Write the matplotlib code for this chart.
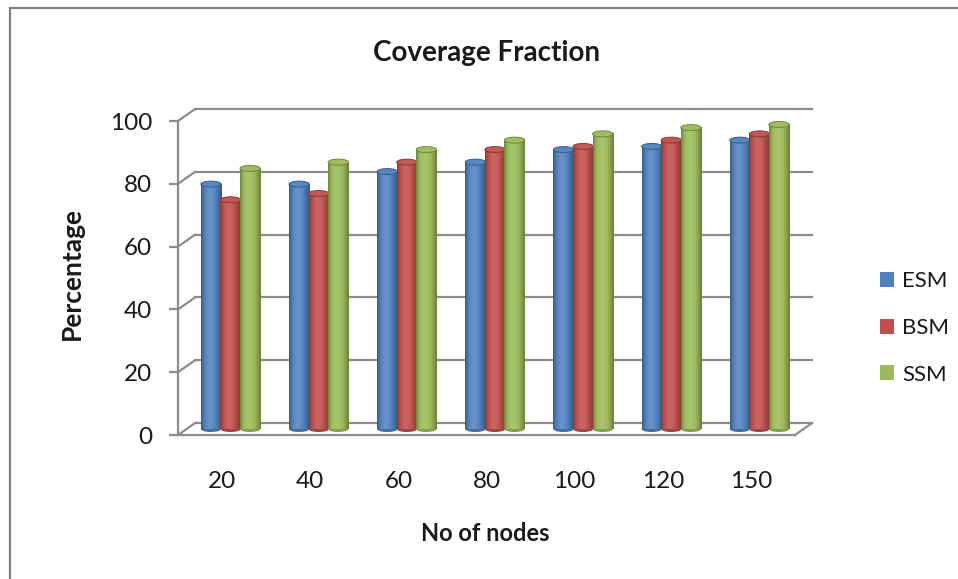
import numpy as np
import matplotlib.pyplot as plt
from matplotlib import rc
from matplotlib.colors import to_rgb
from matplotlib.patches import Ellipse, Rectangle, Patch

rc('font', **{'family': ['Lato', 'DejaVu Sans']})

nodes = ['20', '40', '60', '80', '100', '120', '150']
esm = [78, 78, 82, 85, 89, 90, 92]
bsm = [73, 75, 85, 89, 90, 92, 94]
ssm = [83, 85, 89, 92, 94, 96, 97]
series = ['ESM', 'BSM', 'SSM']
colors = ['#4f81bd', '#c0504d', '#9bbb59']
yticks = [0, 20, 40, 60, 80, 100]

dx, dy = 0.193, 3.8     # depth of the 3d box (data units)
bw = 0.222              # width of one cylinder
eh = 1.9                # height of the end ellipses
grid_c = '#8c8c8c'
txt_c = '#1a1a1a'


def shade(c, k):
    c = np.array(to_rgb(c))
    if k < 1:
        return c * k
    return c + (1 - c) * (k - 1)


def cyl_strip(c, n=64):
    t = np.linspace(0, 1, n) ** 0.8
    k = 0.68 + 0.45 * np.sin(np.pi * t)
    rgb = np.array([shade(c, kk) for kk in k])
    return rgb[np.newaxis, :, :]


fig = plt.figure(figsize=(9.58, 5.79), dpi=100)
ax = fig.add_axes([160/958, 134/579, 670/958, 350/579])
xmin, xmax = -0.704, 6.897
ymin, ymax = -3.18, 108.28

# back wall gridlines + side diagonals
for yt in yticks:
    ax.plot([-0.5 + dx, 6.5 + dx], [yt + dy, yt + dy], color=grid_c, lw=1.6, zorder=1)
    ax.plot([-0.5, -0.5 + dx], [yt, yt + dy], color=grid_c, lw=1.6, zorder=1)
# floor right edge
ax.plot([6.5, 6.5 + dx], [0, dy], color=grid_c, lw=1.6, zorder=1)

# cylinders
x = np.arange(len(nodes))
for j, (vals, c) in enumerate(zip([esm, bsm, ssm], colors)):
    for i, v in enumerate(vals):
        xc = i + dx / 2 + (j - 1) * bw
        w = bw * 1.04
        x0, x1 = xc - w / 2, xc + w / 2
        y0, y1 = dy / 2, v + dy / 2
        z = 3 + 0.01 * (i * 3 + j)
        ax.add_patch(Ellipse((xc, y0), w, eh, facecolor=shade(c, 0.85),
                             edgecolor='none', zorder=z))
        ax.add_patch(Rectangle((x0, y0), w, y1 - y0, facecolor=shade(c, 0.75),
                               edgecolor='none', zorder=z))
        ax.imshow(cyl_strip(c), extent=[x0, x1, y0, y1], aspect='auto',
                  interpolation='nearest', zorder=z + 0.001)
        ax.add_patch(Ellipse((xc, y1), w, eh, facecolor=shade(c, 1.05),
                             edgecolor=shade(c, 0.72), lw=0.7, zorder=z + 0.002))

ax.set_xlim(xmin, xmax)
ax.set_ylim(ymin, ymax)
ax.set_aspect('auto')

# front axes
for s in ['top', 'right']:
    ax.spines[s].set_visible(False)
ax.spines['left'].set_position(('data', -0.5))
ax.spines['left'].set_bounds(0, 100)
ax.spines['bottom'].set_position(('data', 0))
ax.spines['bottom'].set_bounds(-0.5, 6.5)
for s in ['left', 'bottom']:
    ax.spines[s].set_color(grid_c)
    ax.spines[s].set_linewidth(1.6)

ax.set_yticks(yticks)
ax.set_yticklabels([str(t) for t in yticks])
ax.set_xticks(x)
ax.set_xticklabels(nodes)
ax.tick_params(axis='y', length=6.5, width=1.6, color=grid_c, pad=12,
               labelsize=17.5, labelcolor=txt_c)
ax.tick_params(axis='x', length=0, pad=26, labelsize=17.5, labelcolor=txt_c)

ax.set_ylabel('Percentage', fontsize=19, fontweight='bold', color=txt_c)
ax.yaxis.set_label_coords(-0.113, 0.489)
ax.set_xlabel('No of nodes', fontsize=17, fontweight='bold', color=txt_c)
ax.xaxis.set_label_coords(0.485, -0.22)
ax.set_title('Coverage Fraction', fontsize=20, fontweight='bold', color=txt_c,
             x=0.488, y=1.095, va='center')

handles = [Patch(facecolor=c, edgecolor='none') for c in colors]
fig.legend(handles, series, loc='center left', bbox_to_anchor=(860/958, 1 - 328/579),
           frameon=False, fontsize=16, handlelength=0.65, handleheight=0.65,
           handletextpad=0.35, labelspacing=1.2, labelcolor=txt_c)

# chart border
fig.add_artist(Rectangle((9.5/958, -0.1), 1.2, 1.1 - 8/579, transform=fig.transFigure,
                         facecolor='none', edgecolor='#808080', lw=1.6, clip_on=False))

fig.savefig('out.png', dpi=100)
